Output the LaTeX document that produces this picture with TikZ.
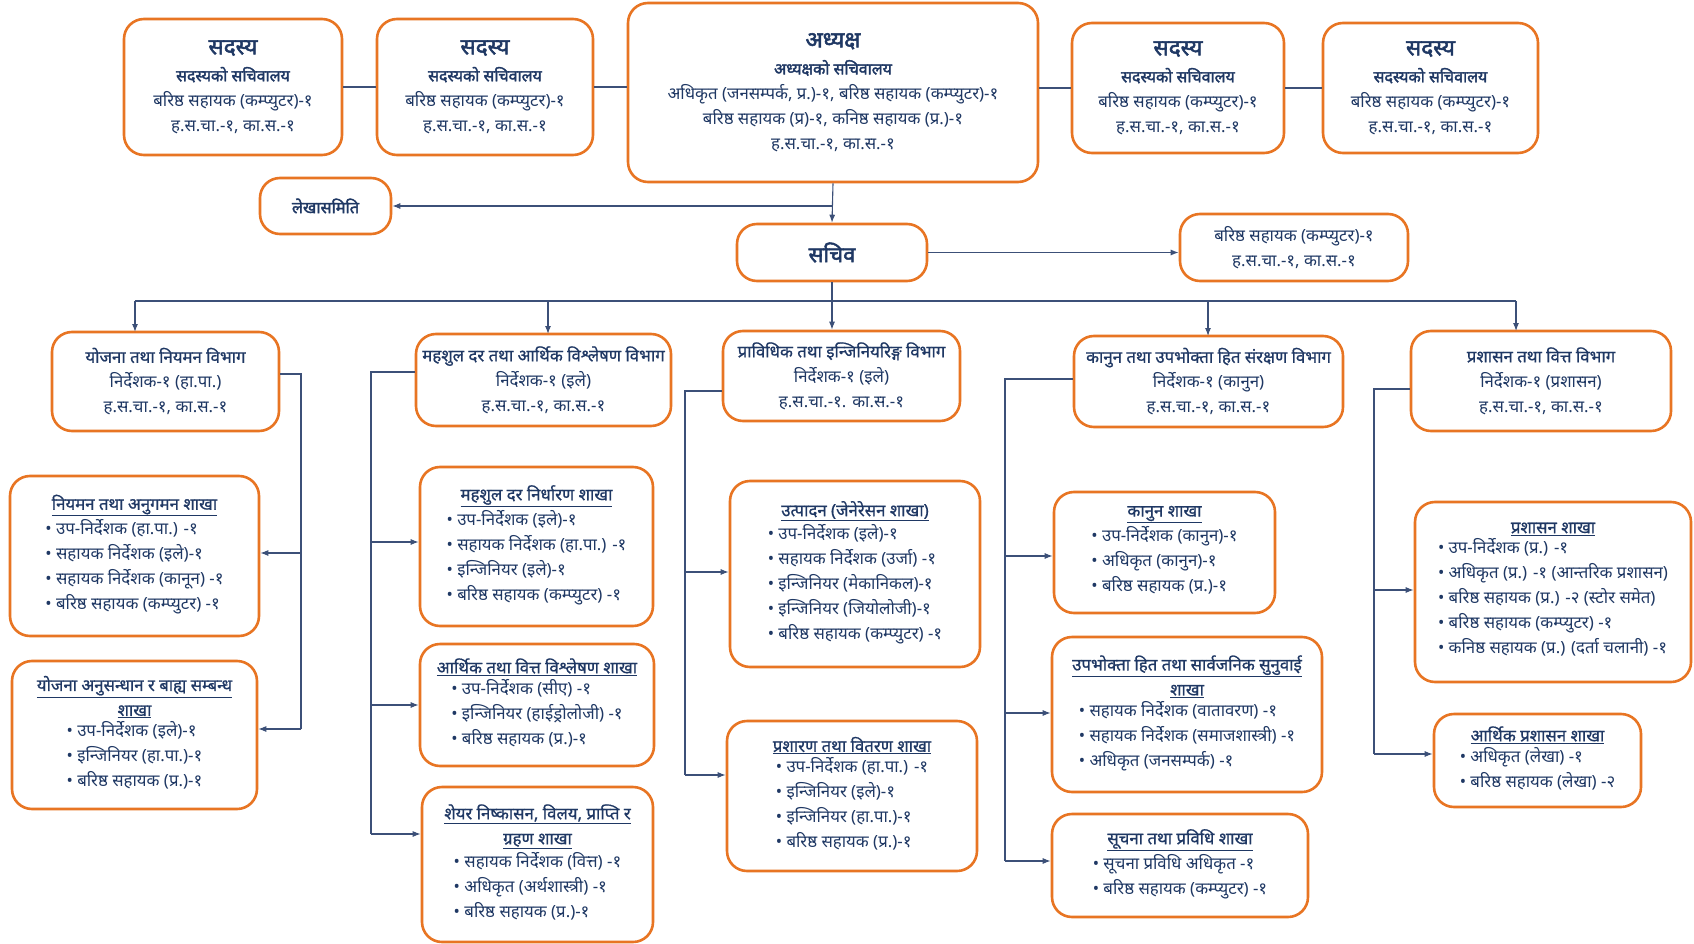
\documentclass[tikz,border=0pt]{standalone}
\usepackage{fontspec}
\setmainfont{Noto Sans}[Script=Devanagari]
\newfontfamily\hdfont{Noto Sans}[Script=Devanagari, FakeBold=2.2]
\newfontfamily\ttlfont{Noto Sans}[Script=Devanagari, FakeBold=0.8]
\usetikzlibrary{arrows.meta}
\definecolor{borange}{RGB}{232,117,35}
\definecolor{navy}{RGB}{31,56,100}
\definecolor{lnavy}{RGB}{60,80,120}
\newcommand{\txtsize}{\fontsize{16.8}{25}\selectfont}
\newcommand{\headsize}{\fontsize{22.5}{28}\selectfont\hdfont}
\newcommand{\subhead}{\fontsize{16}{25}\selectfont\hdfont}
\newcommand{\ttl}[1]{{\ttlfont\underline{#1}}}
\newcommand{\bul}{\textbullet\ }
\tikzset{
  box/.style={draw=borange, line width=2.6pt, rounded corners=20pt, align=center,
    text=navy, font=\txtsize, inner sep=3pt},
  link/.style={draw=lnavy, line width=1.1pt},
  arr/.style={link, -{Latex[length=8pt,width=6pt]}},
}
\begin{document}
\begin{tikzpicture}[x=1pt, y=-1pt]
  \path[fill=white] (0,0) rectangle (1694,944);
  % top row
  \node[box, minimum width=218, minimum height=136] (s1) at (233,87)
    {{\headsize सदस्य}\\[2pt] {\subhead सदस्यको सचिवालय}\\ बरिष्ठ सहायक (कम्प्युटर)-१\\ ह.स.चा.-१, का.स.-१};
  \node[box, minimum width=216, minimum height=136] (s2) at (485,87)
    {{\headsize सदस्य}\\[2pt] {\subhead सदस्यको सचिवालय}\\ बरिष्ठ सहायक (कम्प्युटर)-१\\ ह.स.चा.-१, का.स.-१};
  \node[box, minimum width=410, minimum height=179] (adh) at (833,92.5)
    {{\headsize अध्यक्ष}\\[2pt] {\subhead अध्यक्षको सचिवालय}\\ अधिकृत (जनसम्पर्क, प्र.)-१, बरिष्ठ सहायक (कम्प्युटर)-१\\
     बरिष्ठ सहायक (प्र)-१, कनिष्ठ सहायक (प्र.)-१\\ ह.स.चा.-१, का.स.-१};
  \node[box, minimum width=212, minimum height=130] (s3) at (1178,88)
    {{\headsize सदस्य}\\[2pt] {\subhead सदस्यको सचिवालय}\\ बरिष्ठ सहायक (कम्प्युटर)-१\\ ह.स.चा.-१, का.स.-१};
  \node[box, minimum width=215, minimum height=130] (s4) at (1430.5,88)
    {{\headsize सदस्य}\\[2pt] {\subhead सदस्यको सचिवालय}\\ बरिष्ठ सहायक (कम्प्युटर)-१\\ ह.स.चा.-१, का.स.-१};
  \draw[link] (s1.east) -- (s2.west);
  \draw[link] (s2.east) -- (s2.east -| adh.west);
  \draw[link] (adh.east |- s3.west) -- (s3.west);
  \draw[link] (s3.east) -- (s4.west);

  % sachiv
  \node[box, minimum width=131, minimum height=56, font=\fontsize{16.3}{20}\selectfont\hdfont] (lekha) at (325.5,206) {लेखासमिति};
  \node[box, minimum width=190, minimum height=57, font=\fontsize{22}{28}\selectfont\hdfont] (sachiv) at (832,252.5) {सचिव};
  \node[box, minimum width=228, minimum height=67] (staff) at (1294,247.5)
    {बरिष्ठ सहायक (कम्प्युटर)-१\\ ह.स.चा.-१, का.स.-१};
  \coordinate (lk) at (832,206);
  \draw[arr] (adh.south) -- (sachiv.north);
  \draw[arr] (lk) -- (lekha.east);
  \draw[arr] (sachiv.east) -- (sachiv.east -| staff.west);

  % departments
  \node[box, minimum width=227, minimum height=99] (d1) at (165.5,381.5)
    {{\ttlfont योजना तथा नियमन विभाग}\\ निर्देशक-१ (हा.पा.)\\ ह.स.चा.-१, का.स.-१};
  \node[box, minimum width=255, minimum height=92] (d2) at (543.5,380)
    {{\ttlfont महशुल दर तथा आर्थिक विश्लेषण विभाग}\\ निर्देशक-१ (इले)\\ ह.स.चा.-१, का.स.-१};
  \node[box, minimum width=237, minimum height=90] (d3) at (841.5,376)
    {{\ttlfont प्राविधिक तथा इन्जिनियरिङ्ग विभाग}\\ निर्देशक-१ (इले)\\ ह.स.चा.-१. का.स.-१};
  \node[box, minimum width=269, minimum height=91] (d4) at (1208.5,381.5)
    {{\ttlfont कानुन तथा उपभोक्ता हित संरक्षण विभाग}\\ निर्देशक-१ (कानुन)\\ ह.स.चा.-१, का.स.-१};
  \node[box, minimum width=260, minimum height=100] (d5) at (1541,381)
    {{\ttlfont प्रशासन तथा वित्त विभाग}\\ निर्देशक-१ (प्रशासन)\\ ह.स.चा.-१, का.स.-१};
  \coordinate (bus) at (832,301);
  \draw[link] (sachiv.south) -- (bus);
  \draw[link] (135,301) -- (1516,301);
  \draw[arr] (135,301) -- (135,332);
  \draw[arr] (548,301) -- (548,334);
  \draw[arr] (bus) -- (bus |- d3.north);
  \draw[arr] (1208,301) -- (1208,336);
  \draw[arr] (1516,301) -- (1516,331);

  % branches: planning
  \node[box, minimum width=249, minimum height=160] (b11) at (134.5,556)
    {\ttl{नियमन तथा अनुगमन शाखा}\\ \begin{tabular}{@{}l@{}}\bul उप-निर्देशक (हा.पा.) -१\\ \bul सहायक निर्देशक (इले)-१\\
     \bul सहायक निर्देशक (कानून) -१\\ \bul बरिष्ठ सहायक (कम्प्युटर) -१\end{tabular}};
  \node[box, minimum width=245, minimum height=148] (b12) at (134.5,735)
    {\ttl{योजना अनुसन्धान र बाह्य सम्बन्ध}\\ \ttl{शाखा}\\ \begin{tabular}{@{}l@{}}\bul उप-निर्देशक (इले)-१\\
     \bul इन्जिनियर (हा.पा.)-१\\ \bul बरिष्ठ सहायक (प्र.)-१\end{tabular}};
  \coordinate (c1) at (301,374);
  \draw[link] (c1 -| d1.east) -- (c1) -- (301,729);
  \draw[arr] (301,553) -- (b11.east |- 0,553);
  \draw[arr] (301,729) -- (b12.east |- 0,729);

  % branches: tariff
  \node[box, minimum width=233, minimum height=159] (b21) at (536.5,546.5)
    {\ttl{महशुल दर निर्धारण शाखा}\\ \begin{tabular}{@{}l@{}}\bul उप-निर्देशक (इले)-१\\ \bul सहायक निर्देशक (हा.पा.) -१\\
     \bul इन्जिनियर (इले)-१\\ \bul बरिष्ठ सहायक (कम्प्युटर) -१\end{tabular}};
  \node[box, minimum width=234, minimum height=122] (b22) at (537,705)
    {\ttl{आर्थिक तथा वित्त विश्लेषण शाखा}\\ \begin{tabular}{@{}l@{}}\bul उप-निर्देशक (सीए) -१\\
     \bul इन्जिनियर (हाईड्रोलोजी) -१\\ \bul बरिष्ठ सहायक (प्र.)-१\end{tabular}};
  \node[box, minimum width=231, minimum height=155] (b23) at (537.5,864.5)
    {\ttl{शेयर निष्कासन, विलय, प्राप्ति र}\\ \ttl{ग्रहण शाखा}\\ \begin{tabular}{@{}l@{}}\bul सहायक निर्देशक (वित्त) -१\\
     \bul अधिकृत (अर्थशास्त्री) -१\\ \bul बरिष्ठ सहायक (प्र.)-१\end{tabular}};
  \coordinate (c2) at (371,372);
  \draw[link] (c2 -| d2.west) -- (c2) -- (371,834);
  \draw[arr] (371,542) -- (b21.west |- 0,542);
  \draw[arr] (371,705) -- (b22.west |- 0,705);
  \draw[arr] (371,834) -- (b23.west |- 0,834);

  % branches: technical
  \node[box, minimum width=250, minimum height=186] (b31) at (855,574)
    {\ttl{उत्पादन (जेनेरेसन शाखा)}\\ \begin{tabular}{@{}l@{}}\bul उप-निर्देशक (इले)-१\\ \bul सहायक निर्देशक (उर्जा) -१\\
     \bul इन्जिनियर (मेकानिकल)-१\\ \bul इन्जिनियर (जियोलोजी)-१\\ \bul बरिष्ठ सहायक (कम्प्युटर) -१\end{tabular}};
  \node[box, minimum width=250, minimum height=150] (b32) at (852,796)
    {\ttl{प्रशारण तथा वितरण शाखा}\\ \begin{tabular}{@{}l@{}}\bul उप-निर्देशक (हा.पा.) -१\\ \bul इन्जिनियर (इले)-१\\
     \bul इन्जिनियर (हा.पा.)-१\\ \bul बरिष्ठ सहायक (प्र.)-१\end{tabular}};
  \coordinate (c3) at (685,391);
  \draw[link] (c3 -| d3.west) -- (c3) -- (685,775);
  \draw[arr] (685,572) -- (b31.west |- 0,572);
  \draw[arr] (685,775) -- (b32.west |- 0,775);

  % branches: law
  \node[box, minimum width=221, minimum height=121] (b41) at (1164.5,552.5)
    {\ttl{कानुन शाखा}\\ \begin{tabular}{@{}l@{}}\bul उप-निर्देशक (कानुन)-१\\ \bul अधिकृत (कानुन)-१\\
     \bul बरिष्ठ सहायक (प्र.)-१\end{tabular}};
  \node[box, minimum width=270, minimum height=155] (b42) at (1187,714.5)
    {\ttl{उपभोक्ता हित तथा सार्वजनिक सुनुवाई}\\ \ttl{शाखा}\\ \begin{tabular}{@{}l@{}}\bul सहायक निर्देशक (वातावरण) -१\\
     \bul सहायक निर्देशक (समाजशास्त्री) -१\\ \bul अधिकृत (जनसम्पर्क) -१\end{tabular}};
  \node[box, minimum width=256, minimum height=103] (b43) at (1180,865.5)
    {\ttl{सूचना तथा प्रविधि शाखा}\\ \begin{tabular}{@{}l@{}}\bul सूचना प्रविधि अधिकृत -१\\
     \bul बरिष्ठ सहायक (कम्प्युटर) -१\end{tabular}};
  \coordinate (c4) at (1005,379);
  \draw[link] (c4 -| d4.west) -- (c4) -- (1005,861);
  \draw[arr] (1005,556) -- (b41.west |- 0,556);
  \draw[arr] (1005,713) -- (b42.west |- 0,713);
  \draw[arr] (1005,861) -- (b43.west |- 0,861);

  % branches: administration
  \node[box, minimum width=276, minimum height=180] (b51) at (1553,592)
    {\ttl{प्रशासन शाखा}\\ \begin{tabular}{@{}l@{}}\bul उप-निर्देशक (प्र.) -१\\ \bul अधिकृत (प्र.) -१ (आन्तरिक प्रशासन)\\
     \bul बरिष्ठ सहायक (प्र.) -२ (स्टोर समेत)\\ \bul बरिष्ठ सहायक (कम्प्युटर) -१\\ \bul कनिष्ठ सहायक (प्र.) (दर्ता चलानी) -१\end{tabular}};
  \node[box, minimum width=207, minimum height=93] (b52) at (1537.5,760.5)
    {\ttl{आर्थिक प्रशासन शाखा}\\ \begin{tabular}{@{}l@{}}\bul अधिकृत (लेखा) -१\\ \bul बरिष्ठ सहायक (लेखा) -२\end{tabular}};
  \coordinate (c5) at (1374,389);
  \draw[link] (c5 -| d5.west) -- (c5) -- (1374,754);
  \draw[arr] (1374,590) -- (b51.west |- 0,590);
  \draw[arr] (1374,754) -- (b52.west |- 0,754);
\end{tikzpicture}
\end{document}
